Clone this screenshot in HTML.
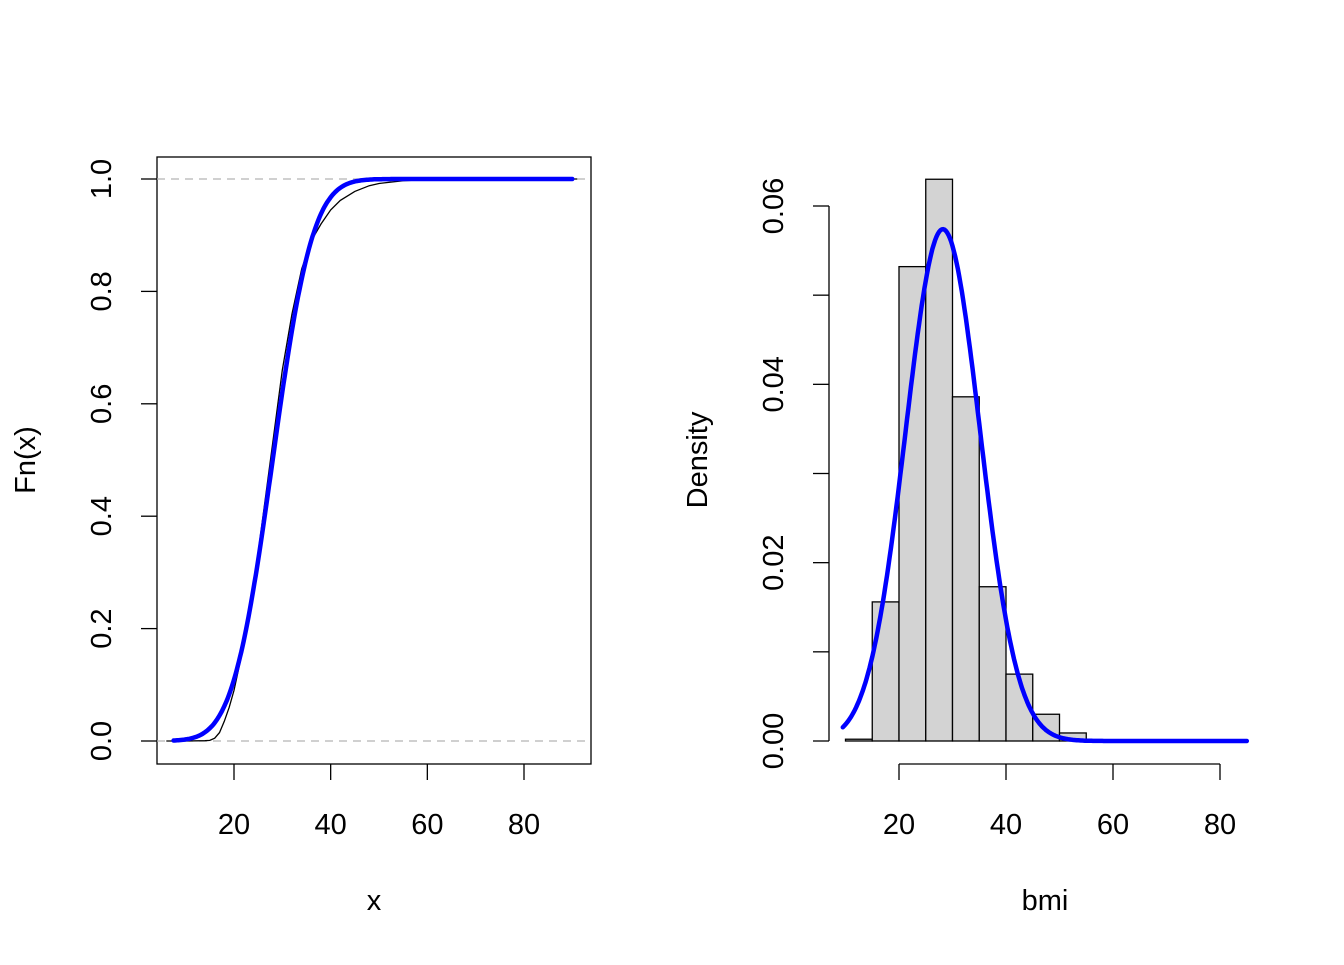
<!DOCTYPE html>
<html><head><meta charset="utf-8"><style>
body{margin:0;background:#fff;}
svg text{font-family:"Liberation Sans",Arial,sans-serif;fill:#000;}
</style></head><body>
<svg width="1344" height="960" viewBox="0 0 1344 960" xmlns="http://www.w3.org/2000/svg">
<g id="left"></g>
<g id="right"></g>
</svg>
<script>
// ECDF panel data
const ecdfX = [6,10,14,15,16,17,18,19,20,22,24,26,28,30,32,34,36,38,40,42,45,48,50,55,60,70,91];
const ecdfF = [0,0,0.0005,0.001,0.005,0.015,0.035,0.06,0.09,0.17,0.27,0.40,0.53,0.66,0.76,0.84,0.89,0.92,0.945,0.962,0.978,0.988,0.992,0.997,0.999,1,1];
const fitMeanL = 28.0, fitSdL = 6.5;
const leftXTicks = [20,40,60,80];
const leftYTicks = ["0.0","0.2","0.4","0.6","0.8","1.0"];
// Histogram panel data
const binEdges = [10,15,20,25,30,35,40,45,50,55];
const binDensity = [0.0002,0.0156,0.0532,0.063,0.0386,0.0173,0.0075,0.003,0.0009];
const fitMeanR = 28.2, fitSdR = 6.95;
const rightXTicks = [20,40,60,80];
const rightYTicks = ["0.00","0.02","0.04","0.06"];

const NS="http://www.w3.org/2000/svg";
function mk(parent,tag,attrs,text){const e=document.createElementNS(NS,tag);for(const k in attrs)e.setAttribute(k,attrs[k]);if(text!==undefined)e.textContent=text;parent.appendChild(e);return e;}
function pnorm(x,m,s){const z=(x-m)/(s*Math.SQRT2);const t=1/(1+0.3275911*Math.abs(z));const y=1-(((((1.061405429*t-1.453152027)*t)+1.421413741)*t-0.284496736)*t+0.254829592)*t*Math.exp(-z*z);return 0.5*(1+(z>=0?y:-y));}
function dnorm(x,m,s){return Math.exp(-0.5*((x-m)/s)**2)/(s*Math.sqrt(2*Math.PI));}

// LEFT
const L=document.getElementById('left');
const lx=v=>234+(v-20)*(524-234)/60, ly=v=>741-v*562;
let e=mk(L,'rect',{x:157,y:157,width:434,height:607,fill:'none',stroke:'#000','stroke-width':1.3});

[0,1].forEach(v=>{e=mk(L,'line',{x1:157,x2:591,y1:ly(v),y2:ly(v),stroke:'#b3b3b3','stroke-dasharray':'8,6','stroke-width':1.3});
});
leftXTicks.forEach(t=>{e=mk(L,'line',{x1:lx(t),x2:lx(t),y1:764,y2:780,stroke:'#000','stroke-width':1.3});

e=mk(L,'text',{x:lx(t),y:834,'font-size':29,'text-anchor':'middle'},String(t));
});
leftYTicks.forEach(t=>{const y=ly(parseFloat(t));e=mk(L,'line',{x1:141,x2:157,y1:y,y2:y,stroke:'#000','stroke-width':1.3});

e=mk(L,'text',{x:0,y:0,'font-size':29,'text-anchor':'middle',transform:`translate(111,${y}) rotate(-90)`},t);
});
e=mk(L,'text',{x:374,y:910,'font-size':29,'text-anchor':'middle'},'x');

e=mk(L,'text',{x:0,y:0,'font-size':29,'text-anchor':'middle',transform:'translate(35,460) rotate(-90)'},'Fn(x)');

let d=ecdfX.map((x,i)=>(i?'L':'M')+lx(x).toFixed(1)+','+ly(ecdfF[i]).toFixed(1)).join(' ');
e=mk(L,'path',{d:d,fill:'none',stroke:'#000','stroke-width':1.3});

d='';for(let x=7.5;x<=90;x+=0.25){d+=(d?'L':'M')+lx(x).toFixed(1)+','+ly(pnorm(x,fitMeanL,fitSdL)).toFixed(1)+' ';}
e=mk(L,'path',{d:d,fill:'none',stroke:'#0000ff','stroke-width':4.5,'stroke-linecap':'round'});


// RIGHT
const R=document.getElementById('right');
const rx=v=>899+(v-20)*(1220-899)/60, ry=v=>741-v*(741-206)/0.06;
binDensity.forEach((v,i)=>{e=mk(R,'rect',{x:rx(binEdges[i]),y:ry(v),width:rx(binEdges[i+1])-rx(binEdges[i]),height:741-ry(v),fill:'#d3d3d3',stroke:'#000','stroke-width':1.3});
});
e=mk(R,'line',{x1:rx(20),x2:rx(80),y1:764,y2:764,stroke:'#000','stroke-width':1.3});

rightXTicks.forEach(t=>{e=mk(R,'line',{x1:rx(t),x2:rx(t),y1:764,y2:780,stroke:'#000','stroke-width':1.3});

e=mk(R,'text',{x:rx(t),y:834,'font-size':29,'text-anchor':'middle'},String(t));
});
e=mk(R,'line',{x1:829,x2:829,y1:ry(0),y2:ry(0.06),stroke:'#000','stroke-width':1.3});

for(let v=0;v<=0.0601;v+=0.01){const y=ry(v);e=mk(R,'line',{x1:813,x2:829,y1:y,y2:y,stroke:'#000','stroke-width':1.3});
}
rightYTicks.forEach(t=>{const y=ry(parseFloat(t));
e=mk(R,'text',{x:0,y:0,'font-size':29,'text-anchor':'middle',transform:`translate(783,${y}) rotate(-90)`},t);
});
e=mk(R,'text',{x:1045,y:910,'font-size':29,'text-anchor':'middle'},'bmi');

e=mk(R,'text',{x:0,y:0,'font-size':29,'text-anchor':'middle',transform:'translate(707,460) rotate(-90)'},'Density');

d='';for(let x=9.5;x<=85;x+=0.25){d+=(d?'L':'M')+rx(x).toFixed(1)+','+ry(dnorm(x,fitMeanR,fitSdR)).toFixed(1)+' ';}
e=mk(R,'path',{d:d,fill:'none',stroke:'#0000ff','stroke-width':4.5,'stroke-linecap':'round'});

</script>
</body></html>
